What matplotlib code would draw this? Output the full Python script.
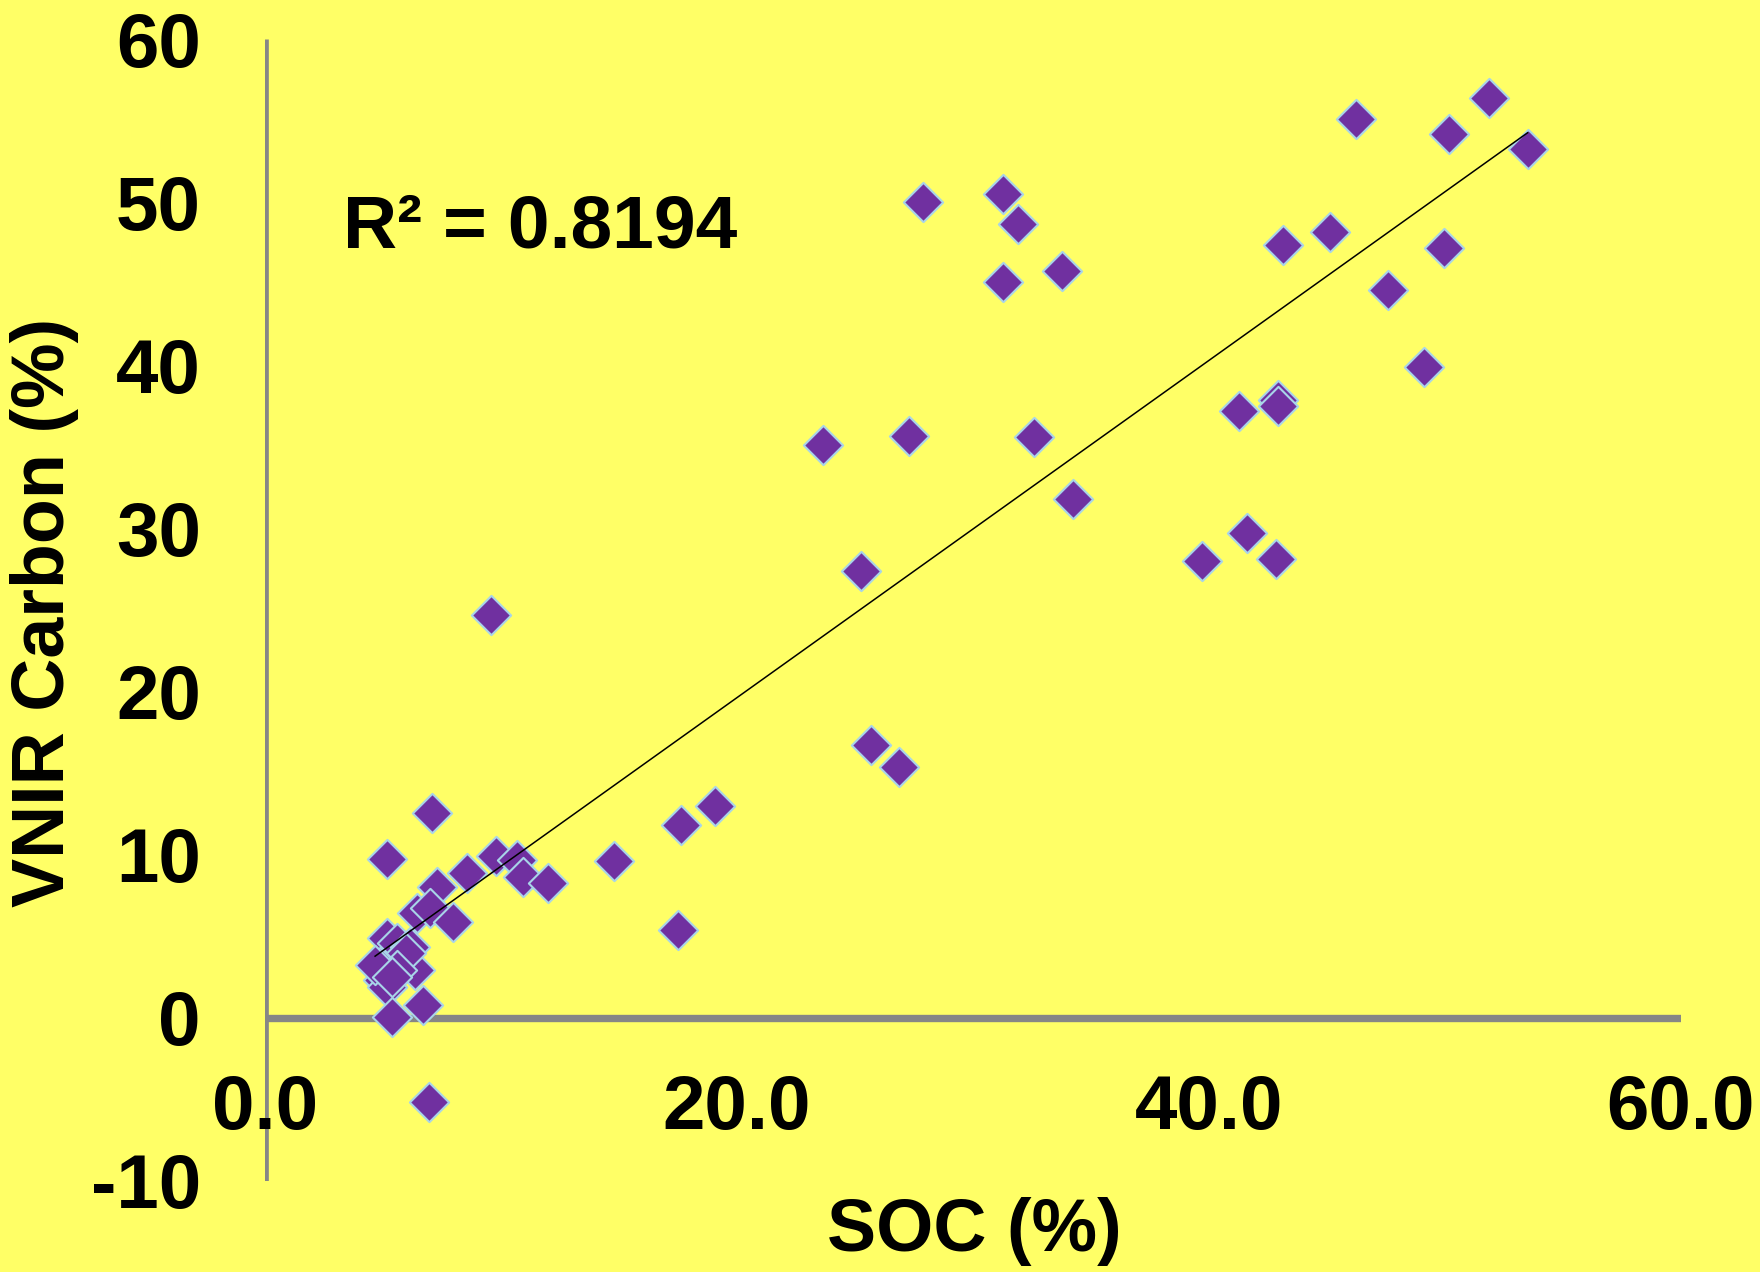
import numpy as np
import matplotlib
matplotlib.use("Agg")
import matplotlib.pyplot as plt
from matplotlib import font_manager

soc = [51.88, 46.22, 50.17, 53.5, 27.87, 31.29, 31.91, 45.13, 43.13, 49.98,
       31.29, 33.76, 47.6, 49.12, 41.27, 42.94, 42.94, 23.63, 27.29, 32.57,
       34.24, 41.6, 39.7, 42.84, 25.25, 9.56, 25.68, 26.87, 19.07, 17.64,
       14.79, 17.5,
       7.07, 5.19, 8.55, 9.78, 10.67, 10.95, 11.98, 7.28, 6.46, 6.99,
       7.98, 5.16, 5.58, 6.15, 4.88, 5.02, 5.16, 6.36, 6.69, 5.37,
       6.97, 6.0, 5.58, 4.67, 5.37]
vnir = [56.4, 55.1, 54.2, 53.3, 50.0, 50.5, 48.7, 48.2, 47.4, 47.2,
        45.1, 45.8, 44.6, 39.9, 37.2, 37.9, 37.5, 35.1, 35.7, 35.6,
        31.8, 29.7, 28.0, 28.1, 27.4, 24.7, 16.7, 15.4, 13.0, 11.8,
        9.6, 5.4,
        12.53, 9.71, 8.85, 9.91, 9.67, 8.65, 8.28, 8.0, 6.40, 6.71,
        5.89, 4.87, 4.56, 4.35, 3.13, 2.31, 1.9, 2.92, 0.78, 0.06,
        -5.15, 3.95, 2.92, 3.23, 2.5]
x_ticks = [0, 20, 40, 60]
x_tick_labels = ["0.0", "20.0", "40.0", "60.0"]
y_ticks = [-10, 0, 10, 20, 30, 40, 50, 60]
y_tick_labels = ["-10", "0", "10", "20", "30", "40", "50", "60"]
r2_text = "R² = 0.8194"

names = {f.name for f in font_manager.fontManager.ttflist}
fam = [n for n in ["Liberation Sans Narrow", "Arial Narrow", "Liberation Sans", "DejaVu Sans"] if n in names]
plt.rcParams['font.family'] = fam
plt.rcParams['font.weight'] = 'bold'

bg = "#FFFF66"
fig = plt.figure(figsize=(17.6, 12.72), dpi=100, facecolor=bg)
ax = fig.add_axes([0.1505, 0.0717, 0.8046, 0.8974], facecolor=bg)
ax.spines['bottom'].set_position(('data', -5.6))
ax.set_xlim(0, 60)
ax.set_ylim(-10, 60)
for s in ax.spines.values():
    s.set_visible(False)

ax.plot([0, 0], [-10, 60], color="#868686", lw=4.8, solid_capstyle='butt', zorder=1)
ax.plot([0, 60], [0, 0], color="#868686", lw=5.3, solid_capstyle='butt', zorder=1)

x = np.array(soc); y = np.array(vnir)
k, b = np.polyfit(x, y, 1)
xs = np.array([x.min(), x.max()])

ax.scatter(x, y, marker='D', s=20**2, c="#7030A0", edgecolors="#A8D4E8",
           linewidths=1.5, zorder=3, clip_on=False)
ax.plot(xs, k * xs + b, color="black", lw=1.1, zorder=4)

ax.set_yticks(y_ticks)
ax.set_yticklabels(y_tick_labels, fontsize=55, fontweight='bold')
ax.tick_params(axis='y', length=0, pad=46)
ax.set_xticks(x_ticks)
ax.set_xticklabels(x_tick_labels, fontsize=55, fontweight='bold', va='center')
ax.tick_params(axis='x', length=0, pad=0)

ax.text(343 / 1760, 1 - 228 / 1272, r2_text, transform=fig.transFigure,
        fontsize=54, fontweight='bold', ha='left', va='center')
fig.text(974 / 1760, 1 - 1231 / 1272, "SOC (%)", fontsize=53, fontweight='bold',
         ha='center', va='center')
fig.text(45 / 1760, 1 - 612 / 1272, "VNIR Carbon (%)", fontsize=53, fontweight='bold',
         ha='center', va='center', rotation=90)

fig.savefig("out.png", dpi=100, facecolor=bg)
